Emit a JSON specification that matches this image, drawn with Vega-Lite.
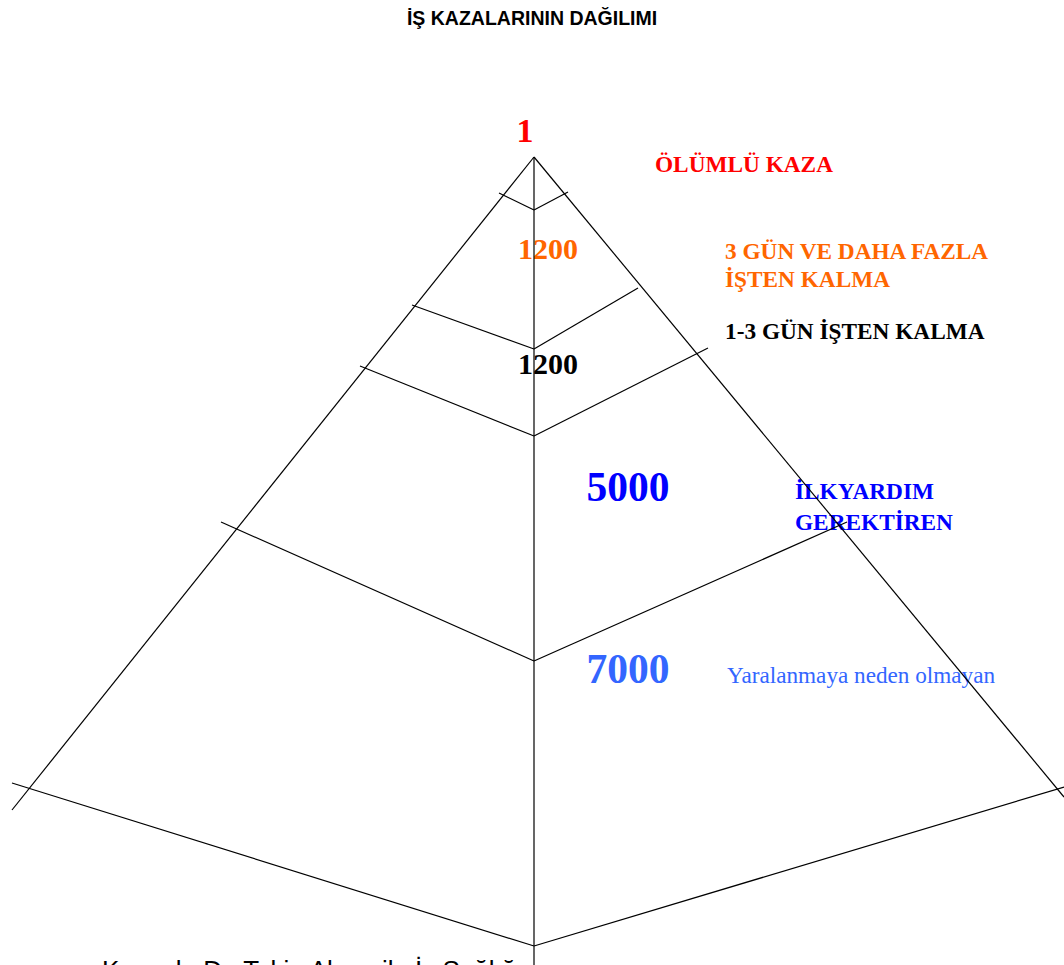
{
  "$schema": "https://vega.github.io/schema/vega-lite/v6.json",
  "autosize": {"type": "fit", "contains": "padding"},
  "width": 1064,
  "height": 965,
  "padding": 0,
  "background": "white",
  "view": {"stroke": null},
  "datasets": {
    "segments": [
      {"part": "sol kenar", "x": 534, "y": 157, "x2": 12, "y2": 810},
      {"part": "sağ kenar", "x": 534, "y": 157, "x2": 1064, "y2": 797},
      {"part": "eksen", "x": 534, "y": 157, "x2": 534, "y2": 965},
      {"part": "ölümlü sol", "x": 499, "y": 193, "x2": 534, "y2": 210},
      {"part": "ölümlü sağ", "x": 534, "y": 210, "x2": 568, "y2": 192},
      {"part": "3+ gün sol", "x": 412, "y": 305, "x2": 534, "y2": 349},
      {"part": "3+ gün sağ", "x": 534, "y": 349, "x2": 638, "y2": 288},
      {"part": "1-3 gün sol", "x": 360, "y": 366, "x2": 534, "y2": 436},
      {"part": "1-3 gün sağ", "x": 534, "y": 436, "x2": 708, "y2": 348},
      {"part": "ilkyardım sol", "x": 221, "y": 522, "x2": 534, "y2": 661},
      {"part": "ilkyardım sağ", "x": 534, "y": 661, "x2": 847, "y2": 522},
      {"part": "yaralanmasız sol", "x": 12, "y": 783, "x2": 534, "y2": 946},
      {"part": "yaralanmasız sağ", "x": 534, "y": 946, "x2": 1064, "y2": 787}
    ],
    "counts": [
      {"level": "Ölümlü", "text": "1", "x": 525, "y": 142},
      {"level": "3+ gün", "text": "1200", "x": 548, "y": 259},
      {"level": "1-3 gün", "text": "1200", "x": 548, "y": 374},
      {"level": "İlkyardım", "text": "5000", "x": 628, "y": 501},
      {"level": "Yaralanmasız", "text": "7000", "x": 628, "y": 683}
    ],
    "labels": [
      {"level": "Ölümlü", "text": "ÖLÜMLÜ KAZA", "x": 655, "y": 172},
      {"level": "3+ gün", "text": "3 GÜN VE DAHA FAZLA", "x": 725, "y": 259},
      {"level": "3+ gün", "text": "İŞTEN KALMA", "x": 725, "y": 287},
      {"level": "1-3 gün", "text": "1-3 GÜN İŞTEN KALMA", "x": 725, "y": 339},
      {"level": "İlkyardım", "text": "İLKYARDIM", "x": 795, "y": 499},
      {"level": "İlkyardım", "text": "GEREKTİREN", "x": 795, "y": 530},
      {"level": "Yaralanmasız", "text": "Yaralanmaya neden olmayan", "x": 727, "y": 683}
    ],
    "titles": [
      {"role": "başlık", "text": "İŞ KAZALARININ DAĞILIMI", "x": 532, "y": 25},
      {"role": "kaynak", "text": "Kaynak: Dr. Tekin Akgeyik, İş Sağlığı", "x": 102, "y": 979}
    ]
  },
  "encoding": {
    "x": {"field": "x", "type": "quantitative", "scale": {"domain": [0, 1064], "nice": false, "zero": false}, "axis": null},
    "y": {"field": "y", "type": "quantitative", "scale": {"domain": [0, 965], "nice": false, "zero": false, "reverse": true}, "axis": null}
  },
  "layer": [
    {
      "data": {"name": "counts"},
      "transform": [{"filter": "datum.level === 'Ölümlü'"}],
      "mark": {"type": "text", "font": "Liberation Serif", "fontWeight": "bold", "fontSize": 34, "align": "center", "baseline": "alphabetic"},
      "encoding": {
        "text": {"field": "text"},
        "color": {"field": "level", "type": "nominal", "legend": null,
          "scale": {"domain": ["Ölümlü", "3+ gün", "1-3 gün", "İlkyardım", "Yaralanmasız"], "range": ["#FF0000", "#FF6600", "#000000", "#0000FF", "#3366FF"]}}
      }
    },
    {
      "data": {"name": "counts"},
      "transform": [{"filter": "datum.level === '3+ gün' || datum.level === '1-3 gün'"}],
      "mark": {"type": "text", "font": "Liberation Serif", "fontWeight": "bold", "fontSize": 30, "align": "center", "baseline": "alphabetic"},
      "encoding": {
        "text": {"field": "text"},
        "color": {"field": "level", "type": "nominal", "legend": null}
      }
    },
    {
      "data": {"name": "counts"},
      "transform": [{"filter": "datum.level === 'İlkyardım' || datum.level === 'Yaralanmasız'"}],
      "mark": {"type": "text", "font": "Liberation Serif", "fontWeight": "bold", "fontSize": 41.5, "align": "center", "baseline": "alphabetic"},
      "encoding": {
        "text": {"field": "text"},
        "color": {"field": "level", "type": "nominal", "legend": null}
      }
    },
    {
      "data": {"name": "labels"},
      "transform": [{"filter": "datum.level !== 'Yaralanmasız'"}],
      "mark": {"type": "text", "font": "Liberation Serif", "fontWeight": "bold", "fontSize": 23.3, "align": "left", "baseline": "alphabetic"},
      "encoding": {
        "text": {"field": "text"},
        "color": {"field": "level", "type": "nominal", "legend": null}
      }
    },
    {
      "data": {"name": "labels"},
      "transform": [{"filter": "datum.level === 'Yaralanmasız'"}],
      "mark": {"type": "text", "font": "Liberation Serif", "fontWeight": "normal", "fontSize": 23.2, "align": "left", "baseline": "alphabetic"},
      "encoding": {
        "text": {"field": "text"},
        "color": {"field": "level", "type": "nominal", "legend": null}
      }
    },
    {
      "data": {"name": "titles"},
      "transform": [{"filter": "datum.role === 'başlık'"}],
      "mark": {"type": "text", "font": "Liberation Sans", "fontWeight": "bold", "fontSize": 19.5, "align": "center", "baseline": "alphabetic", "color": "#000000"},
      "encoding": {"text": {"field": "text"}}
    },
    {
      "data": {"name": "titles"},
      "transform": [{"filter": "datum.role === 'kaynak'"}],
      "mark": {"type": "text", "font": "Liberation Sans", "fontSize": 26, "align": "left", "baseline": "alphabetic", "color": "#000000", "clip": true},
      "encoding": {"text": {"field": "text"}}
    },
    {
      "data": {"name": "segments"},
      "mark": {"type": "rule", "color": "#000000", "strokeWidth": 1.2, "clip": true},
      "encoding": {
        "x2": {"field": "x2"},
        "y2": {"field": "y2"}
      }
    }
  ]
}
